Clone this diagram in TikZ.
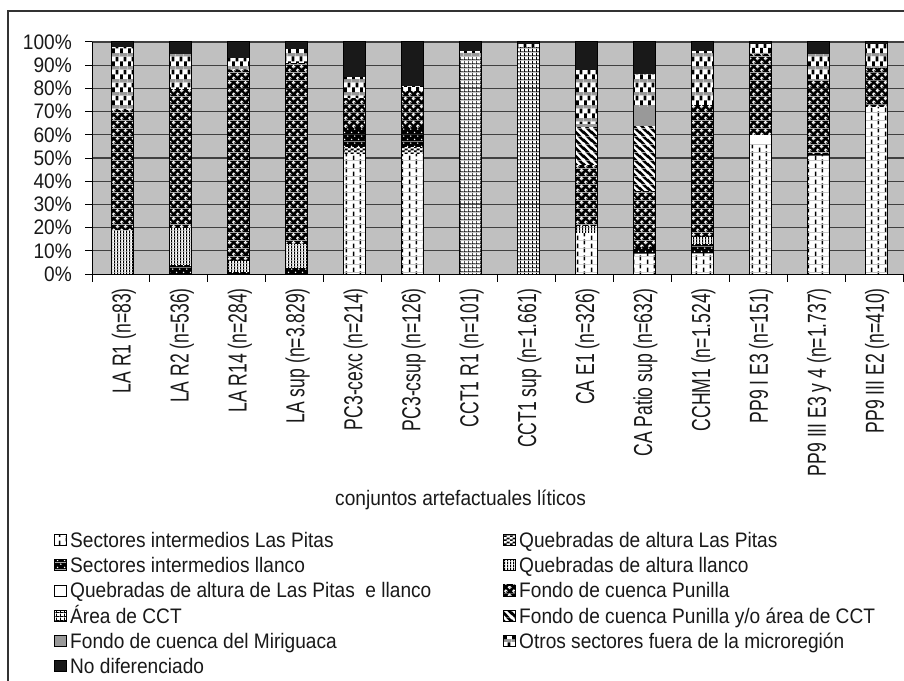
\documentclass[tikz,border=0pt]{standalone}
\usepackage{fontspec}
\setmainfont{Liberation Sans}
\newfontfamily\txtfont[FakeStretch=0.91]{Liberation Sans}
\newfontfamily\lblfont[FakeStretch=0.675]{Liberation Sans}
\usetikzlibrary{patterns}

% fill patterns of the series (tiles in pt = px)
\pgfdeclarepatterninherentlycolored{dashpat}{\pgfpointorigin}{\pgfqpoint{14pt}{8pt}}{\pgfqpoint{14pt}{8pt}}{%
  \pgfsetfillcolor{white}\pgfpathrectangle{\pgfpointorigin}{\pgfqpoint{14pt}{8pt}}\pgfusepath{fill}%
  \pgfsetfillcolor{black}%
  \pgfpathrectangle{\pgfqpoint{3pt}{0pt}}{\pgfqpoint{1.6pt}{4.8pt}}%
  \pgfpathrectangle{\pgfqpoint{10pt}{4pt}}{\pgfqpoint{1.6pt}{4pt}}%
  \pgfpathrectangle{\pgfqpoint{10pt}{0pt}}{\pgfqpoint{1.6pt}{0.8pt}}\pgfusepath{fill}}
\pgfdeclarepatterninherentlycolored{qppat}{\pgfpointorigin}{\pgfqpoint{6pt}{4pt}}{\pgfqpoint{6pt}{4pt}}{%
  \pgfsetfillcolor{white}\pgfpathrectangle{\pgfpointorigin}{\pgfqpoint{6pt}{4pt}}\pgfusepath{fill}%
  \pgfsetfillcolor{black}%
  \pgfpathrectangle{\pgfpointorigin}{\pgfqpoint{3pt}{2pt}}%
  \pgfpathrectangle{\pgfqpoint{3pt}{2pt}}{\pgfqpoint{3pt}{2pt}}\pgfusepath{fill}}
\pgfdeclarepatterninherentlycolored{dotpat}{\pgfpointorigin}{\pgfqpoint{7pt}{7pt}}{\pgfqpoint{7pt}{7pt}}{%
  \pgfsetfillcolor{black}\pgfpathrectangle{\pgfpointorigin}{\pgfqpoint{7pt}{7pt}}\pgfusepath{fill}%
  \pgfsetfillcolor{white}%
  \pgfpathcircle{\pgfqpoint{1.75pt}{1.75pt}}{0.85pt}%
  \pgfpathcircle{\pgfqpoint{5.25pt}{5.25pt}}{0.85pt}\pgfusepath{fill}}
\pgfdeclarepatterninherentlycolored{vlpat}{\pgfpointorigin}{\pgfqpoint{3pt}{3pt}}{\pgfqpoint{3pt}{3pt}}{%
  \pgfsetfillcolor{white}\pgfpathrectangle{\pgfpointorigin}{\pgfqpoint{3pt}{3pt}}\pgfusepath{fill}%
  \pgfsetfillcolor{black}\pgfpathrectangle{\pgfpointorigin}{\pgfqpoint{1.3pt}{3pt}}\pgfusepath{fill}}
\pgfdeclarepatterninherentlycolored{punpat}{\pgfpointorigin}{\pgfqpoint{8pt}{8pt}}{\pgfqpoint{8pt}{8pt}}{%
  \pgfsetfillcolor{black}\pgfpathrectangle{\pgfpointorigin}{\pgfqpoint{8pt}{8pt}}\pgfusepath{fill}%
  \pgfsetfillcolor{white}%
  \pgfpathcircle{\pgfqpoint{2pt}{2pt}}{2.05pt}%
  \pgfpathcircle{\pgfqpoint{6pt}{6pt}}{2.05pt}\pgfusepath{fill}%
  \pgfsetfillcolor{black}%
  \pgfpathcircle{\pgfqpoint{2.5pt}{1.5pt}}{0.55pt}%
  \pgfpathcircle{\pgfqpoint{6.5pt}{5.5pt}}{0.55pt}\pgfusepath{fill}}
\pgfdeclarepatterninherentlycolored{gridpat}{\pgfpointorigin}{\pgfqpoint{4pt}{4pt}}{\pgfqpoint{4pt}{4pt}}{%
  \pgfsetfillcolor{white}\pgfpathrectangle{\pgfpointorigin}{\pgfqpoint{4pt}{4pt}}\pgfusepath{fill}%
  \pgfsetfillcolor{black}%
  \pgfpathrectangle{\pgfpointorigin}{\pgfqpoint{4pt}{0.9pt}}%
  \pgfpathrectangle{\pgfpointorigin}{\pgfqpoint{0.9pt}{4pt}}\pgfusepath{fill}}
\pgfdeclarepatterninherentlycolored{strpat}{\pgfpointorigin}{\pgfqpoint{8pt}{8pt}}{\pgfqpoint{8pt}{8pt}}{%
  \pgfsetfillcolor{black}\pgfpathrectangle{\pgfpointorigin}{\pgfqpoint{8pt}{8pt}}\pgfusepath{fill}%
  \pgfsetstrokecolor{white}\pgfsetlinewidth{2.6pt}%
  \pgfpathmoveto{\pgfqpoint{-1pt}{9pt}}\pgfpathlineto{\pgfqpoint{9pt}{-1pt}}%
  \pgfpathmoveto{\pgfqpoint{-1pt}{1pt}}\pgfpathlineto{\pgfqpoint{1pt}{-1pt}}%
  \pgfpathmoveto{\pgfqpoint{7pt}{9pt}}\pgfpathlineto{\pgfqpoint{9pt}{7pt}}\pgfusepath{stroke}}
\pgfdeclarepatterninherentlycolored{otrpat}{\pgfpointorigin}{\pgfqpoint{8pt}{13pt}}{\pgfqpoint{8pt}{13pt}}{%
  \pgfsetfillcolor{white}\pgfpathrectangle{\pgfpointorigin}{\pgfqpoint{8pt}{13pt}}\pgfusepath{fill}%
  \pgfsetfillcolor{black!40}\pgfpathrectangle{\pgfpointorigin}{\pgfqpoint{8pt}{3pt}}\pgfusepath{fill}%
  \pgfsetfillcolor{black}%
  \pgfpathrectangle{\pgfqpoint{0pt}{3pt}}{\pgfqpoint{3pt}{5pt}}%
  \pgfpathrectangle{\pgfqpoint{4pt}{8pt}}{\pgfqpoint{3pt}{5pt}}\pgfusepath{fill}}

\definecolor{plotgray}{HTML}{C0C0C0}

\tikzset{
  intpitas/.style={pattern=dashpat},
  quepitas/.style={pattern=qppat},
  intllanco/.style={pattern=dotpat},
  quellanco/.style={pattern=vlpat},
  queambos/.style={fill=white},
  punilla/.style={pattern=punpat},
  areacct/.style={pattern=gridpat},
  puncct/.style={pattern=strpat},
  miriguaca/.style={fill=black!40},
  otros/.style={pattern=otrpat},
  nodif/.style={fill=black!90},
  ticklbl/.style={anchor=east, inner sep=0pt, text=black!90, font=\txtfont\fontsize{21}{21}\selectfont},
  catlbl/.style={anchor=east, rotate=90, inner sep=0pt, text=black!90, font=\lblfont\fontsize{26}{26}\selectfont},
  legtxt/.style={anchor=base west, inner sep=0pt, text=black!90, font=\txtfont\fontsize{21}{21}\selectfont}
}

% one stacked bar: index, list of from/to/series (in %)
\newcommand{\stackbar}[2]{%
  \foreach \lo/\hi/\ser in {#2}
    \path[\ser] ({bx(#1)-11},{py(\lo)}) rectangle ({bx(#1)+11},{py(\hi)});
  \draw[line width=1pt] ({bx(#1)-11},{py(0)}) rectangle ({bx(#1)+11},{py(100)});
}

\begin{document}
\begin{tikzpicture}[x=1pt, y=-1pt,
    declare function={bx(\i)=94+57.93*(\i-0.5); py(\p)=274-2.32*\p;}]
  \useasboundingbox (0,0) rectangle (904,680);
  \clip (0,0) rectangle (904,680);
  \fill[white] (0,0) rectangle (904,680);
  \draw[black!80, line width=1.3pt] (8,11) rectangle (930,700);
  % plot area and grid
  \fill[plotgray] (92,{py(0)}) rectangle (905,{py(100)});
  \foreach \p in {10,20,...,100}
    \draw[black!75, line width=1.1pt] (92,{py(\p)}) -- (905,{py(\p)});
  \foreach \p in {0,10,...,100} {
    \draw[line width=1pt] (85,{py(\p)}) -- (92,{py(\p)});
    \node[ticklbl] (y\p) at (72,{py(\p)}) {\p\%};
  }
  \draw[line width=1pt] (92,{py(0)}) -- (92,{py(100)});
  \draw[line width=1pt] (92,{py(0)}) -- (905,{py(0)});
  \foreach \k in {0,...,14}
    \draw[line width=1pt] ({92+57.93*\k},{py(0)}) -- ({92+57.93*\k},282);
  % bars
  \stackbar{1}{0/19/quellanco, 19/71/punilla, 71/98/otros, 98/100/nodif}
  \stackbar{2}{0/4/intllanco, 4/20/quellanco, 20/80/punilla, 80/95/otros, 95/100/nodif}
  \stackbar{3}{0/1/intllanco, 1/6/quellanco, 6/88/punilla, 88/93/otros, 93/100/nodif}
  \stackbar{4}{0/3/intllanco, 3/13/quellanco, 13/91/punilla, 91/97/otros, 97/100/nodif}
  \stackbar{5}{0/52/intpitas, 52/55/quepitas, 55/63/intllanco, 63/76/punilla, 76/85/otros, 85/100/nodif}
  \stackbar{6}{0/52/intpitas, 52/55/quepitas, 55/63/intllanco, 63/79/punilla, 79/81/otros, 81/100/nodif}
  \stackbar{7}{0/94/areacct, 94/96/otros, 96/100/nodif}
  \stackbar{8}{0/98/areacct, 98/99/otros, 99/100/nodif}
  \stackbar{9}{0/18/intpitas, 18/21/quellanco, 21/47/punilla, 47/63.5/puncct, 63.5/65/miriguaca, 65/88/otros, 88/100/nodif}
  \stackbar{10}{0/9/intpitas, 9/12/intllanco, 12/36/punilla, 36/64/puncct, 64/72/miriguaca, 72/86/otros, 86/100/nodif}
  \stackbar{11}{0/9/intpitas, 9/13/intllanco, 13/16/quellanco, 16/73/punilla, 73/96/otros, 96/100/nodif}
  \stackbar{12}{0/56/intpitas, 56/60/queambos, 60/95/punilla, 95/99/otros, 99/100/nodif}
  \stackbar{13}{0/51/intpitas, 51/52/intllanco, 52/84/punilla, 84/95/otros, 95/100/nodif}
  \stackbar{14}{0/72/intpitas, 72/89/punilla, 89/99/otros, 99/100/nodif}
  % category labels
  \foreach \lbl [count=\i] in {LA R1 (n=83), LA R2 (n=536), LA R14 (n=284), LA sup (n=3.829),
      PC3-cexc (n=214), PC3-csup (n=126), CCT1 R1 (n=101), CCT1 sup (n=1.661), CA E1 (n=326),
      CA Patio sup (n=632), CCHM1 (n=1.524), PP9 I E3 (n=151), PP9 III E3 y 4 (n=1.737), PP9 III E2 (n=410)}
    \node[catlbl] (c\i) at ({bx(\i)+1},288) {\lbl};
  \node[legtxt] (xtitle) at (335,505) {conjuntos artefactuales líticos};
  % legend
  \foreach \ser/\txt [count=\k] in {intpitas/Sectores intermedios Las Pitas, intllanco/Sectores intermedios llanco,
      queambos/Quebradas de altura de Las Pitas\ \ e llanco, areacct/Área de CCT,
      miriguaca/Fondo de cuenca del Miriguaca, nodif/No diferenciado} {
    \path[\ser, draw=black, line width=0.6pt] (54,{534.5+25.2*(\k-1)}) rectangle ++(12,11);
    \node[legtxt] (la\k) at (70,{547.5+25.2*(\k-1)}) {\txt};
  }
  \foreach \ser/\txt [count=\k] in {quepitas/Quebradas de altura Las Pitas, quellanco/Quebradas de altura llanco,
      punilla/Fondo de cuenca Punilla, puncct/{Fondo de cuenca Punilla y/o área de CCT},
      otros/Otros sectores fuera de la microregión} {
    \path[\ser, draw=black, line width=0.6pt] (503,{534.5+25.2*(\k-1)}) rectangle ++(12,11);
    \node[legtxt] (lb\k) at (519,{547.5+25.2*(\k-1)}) {\txt};
  }
\end{tikzpicture}
\end{document}
